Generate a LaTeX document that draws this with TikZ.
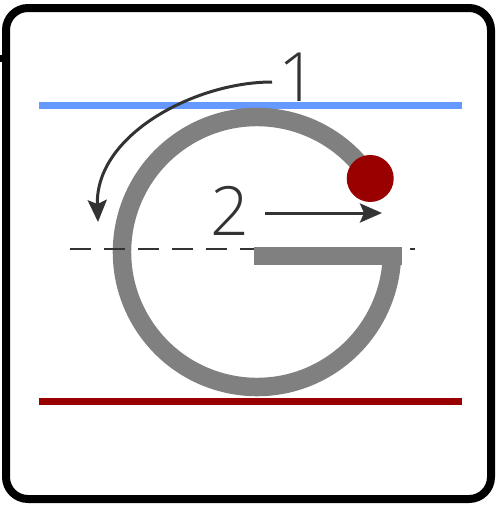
\documentclass[tikz,border=0pt]{standalone}
\usepackage{fontspec}
\IfFontExistsTF{Open Sans Light}{\setmainfont{Open Sans Light}}{\setmainfont{Open Sans}}
\usetikzlibrary{arrows.meta,calc}
\definecolor{strokegray}{HTML}{808080}
\definecolor{lineblue}{HTML}{6699FF}
\definecolor{linered}{HTML}{990000}
\definecolor{inkdark}{HTML}{333333}

\begin{document}
\begin{tikzpicture}[x=1pt,y=-1pt,
  guide/.style={line width=7pt},
  letter/.style={draw=strokegray,line width=18.5pt},
  hint/.style={draw=inkdark,line width=3pt,-{Stealth[length=22pt,width=19pt,inset=4pt]}},
  digit/.style={text=inkdark,font=\fontsize{68}{70}\selectfont,inner sep=0pt,anchor=base}]
\useasboundingbox (0,0) rectangle (497,506);
% frame
\draw[line width=8pt,rounded corners=22pt] (6,8) rectangle (491,499);
\draw[line width=7pt] (0,58.5) -- (3,58.5);
% guide lines
\draw[guide,lineblue] (39,105) -- (462,105);
\draw[guide,linered] (39,401) -- (462,401);
% letter G
\coordinate (ctr) at (257,252);
\draw[letter] ($(ctr)+(-33:135)$) arc[start angle=-33,end angle=-357,radius=135];
\draw[inkdark,line width=2.5pt,dash pattern=on 21pt off 13pt] (70,249) -- (415,249);
\draw[letter] (254,256) -- (401.5,256);
\node[circle,fill=linered,minimum size=47pt,inner sep=0pt] (dot) at ($(ctr)+(-33:135)$) {};
% stroke order
\node[digit] (num1) at (298,101) {1};
\node[digit] (num2) at (230,235) {2};
\coordinate (start1) at (272,82);
\coordinate (end1) at (98,222);
\coordinate (start2) at (265,213);
\coordinate (end2) at (382,213);
\draw[hint] (start1) .. controls (195,82) and (95,135) .. (end1);
\draw[hint] (start2) -- (end2);
\end{tikzpicture}
\end{document}
